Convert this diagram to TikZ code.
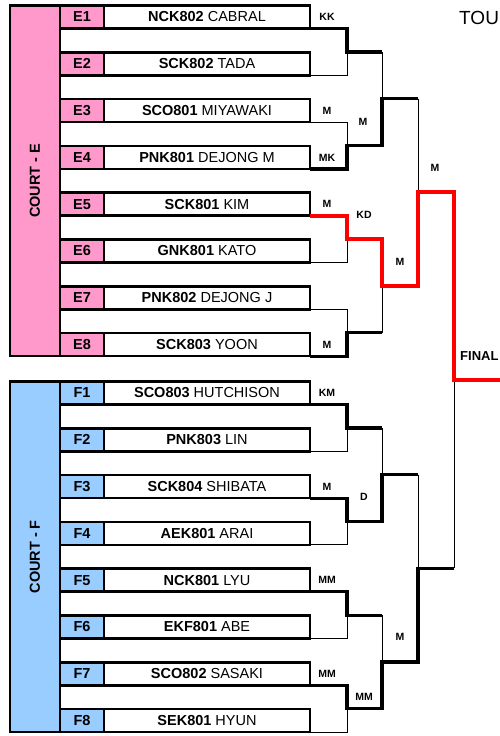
\documentclass[tikz,border=0pt]{standalone}
\usepackage{fontspec}
\setmainfont{Liberation Sans}
\usetikzlibrary{positioning, calc}
\definecolor{cPink}{HTML}{FF99CC}
\definecolor{cSky}{HTML}{99CCFF}
\definecolor{cRed}{HTML}{FF0000}
\tikzset{
  court/.style={
    rectangle, draw, line width=2.6pt, fill=#1,
    minimum width=50pt, minimum height=350.6pt,
    inner sep=0pt, outer sep=0pt
  },
  courtlabel/.style={rotate=90, font=\fontsize{14.5}{16}\selectfont\bfseries},
  seedbox/.style={
    rectangle, draw, line width=2.6pt, fill=#1,
    minimum width=44pt, minimum height=23pt,
    inner sep=0pt, outer sep=0pt, font=\fontsize{14.5}{16}\selectfont\bfseries
  },
  namebox/.style={
    rectangle, draw, line width=2.6pt, fill=white,
    minimum width=206pt, minimum height=23pt,
    inner sep=0pt, outer sep=0pt, font=\fontsize{14.5}{16}\selectfont
  },
  win/.style={line width=3.2pt},
  lose/.style={line width=1pt},
  redwin/.style={line width=4pt, draw=cRed},
  score/.style={font=\fontsize{10.5}{12}\selectfont\bfseries, inner sep=0pt},
}

\begin{document}
\begin{tikzpicture}[x=1pt, y=-1pt, node distance=23.8pt]
  \useasboundingbox (0,0) rectangle (500,736);
  \clip (0,0) rectangle (500,736);

  % court E
  \node[court=cPink, anchor=north west] (courtE) at (10,5.5) {};
  \node[courtlabel] (lblE) at (courtE.center) {COURT - E};

  \node[seedbox=cPink, anchor=north west] (e1) at (60,5.5) {E1};
  \node[namebox, right=0pt of e1] (cabral) {\textbf{NCK802} CABRAL};
  \node[seedbox=cPink, below=of e1] (e2) {E2};
  \node[namebox, right=0pt of e2] (tada) {\textbf{SCK802} TADA};
  \node[seedbox=cPink, below=of e2] (e3) {E3};
  \node[namebox, right=0pt of e3] (miyawaki) {\textbf{SCO801} MIYAWAKI};
  \node[seedbox=cPink, below=of e3] (e4) {E4};
  \node[namebox, right=0pt of e4] (dejongm) {\textbf{PNK801} DEJONG M};
  \node[seedbox=cPink, below=of e4] (e5) {E5};
  \node[namebox, right=0pt of e5] (kim) {\textbf{SCK801} KIM};
  \node[seedbox=cPink, below=of e5] (e6) {E6};
  \node[namebox, right=0pt of e6] (kato) {\textbf{GNK801} KATO};
  \node[seedbox=cPink, below=of e6] (e7) {E7};
  \node[namebox, right=0pt of e7] (dejongj) {\textbf{PNK802} DEJONG J};
  \node[seedbox=cPink, below=of e7] (e8) {E8};
  \node[namebox, right=0pt of e8] (yoon) {\textbf{SCK803} YOON};

  % court F
  \node[court=cSky, anchor=north west] (courtF) at (10,381.5) {};
  \node[courtlabel] (lblF) at (courtF.center) {COURT - F};

  \node[seedbox=cSky, anchor=north west] (f1) at (60,381.5) {F1};
  \node[namebox, right=0pt of f1] (hutchison) {\textbf{SCO803} HUTCHISON};
  \node[seedbox=cSky, below=of f1] (f2) {F2};
  \node[namebox, right=0pt of f2] (lin) {\textbf{PNK803} LIN};
  \node[seedbox=cSky, below=of f2] (f3) {F3};
  \node[namebox, right=0pt of f3] (shibata) {\textbf{SCK804} SHIBATA};
  \node[seedbox=cSky, below=of f3] (f4) {F4};
  \node[namebox, right=0pt of f4] (arai) {\textbf{AEK801} ARAI};
  \node[seedbox=cSky, below=of f4] (f5) {F5};
  \node[namebox, right=0pt of f5] (lyu) {\textbf{NCK801} LYU};
  \node[seedbox=cSky, below=of f5] (f6) {F6};
  \node[namebox, right=0pt of f6] (abe) {\textbf{EKF801} ABE};
  \node[seedbox=cSky, below=of f6] (f7) {F7};
  \node[namebox, right=0pt of f7] (sasaki) {\textbf{SCO802} SASAKI};
  \node[seedbox=cSky, below=of f7] (f8) {F8};
  \node[namebox, right=0pt of f8] (hyun) {\textbf{SEK801} HYUN};

  % bracket junctions
  \coordinate (je1) at ($(cabral.south east)!.5!(tada.south east) + (37,0)$);
  \coordinate (je2) at ($(miyawaki.south east)!.5!(dejongm.south east) + (37,0)$);
  \coordinate (je3) at ($(kim.south east)!.5!(kato.south east) + (37,0)$);
  \coordinate (je4) at ($(dejongj.south east)!.5!(yoon.south east) + (37,0)$);
  \coordinate (qe1) at ($(je1)!.5!(je2) + (35,0)$);
  \coordinate (qe2) at ($(je3)!.5!(je4) + (35,0)$);
  \coordinate (se) at ($(qe1)!.5!(qe2) + (36,0)$);
  \coordinate (jf1) at ($(hutchison.south east)!.5!(lin.south east) + (37,0)$);
  \coordinate (jf2) at ($(shibata.south east)!.5!(arai.south east) + (37,0)$);
  \coordinate (jf3) at ($(lyu.south east)!.5!(abe.south east) + (37,0)$);
  \coordinate (jf4) at ($(sasaki.south east)!.5!(hyun.south east) + (37,0)$);
  \coordinate (qf1) at ($(jf1)!.5!(jf2) + (35,0)$);
  \coordinate (qf2) at ($(jf3)!.5!(jf4) + (35,0)$);
  \coordinate (sf) at ($(qf1)!.5!(qf2) + (36,0)$);
  \coordinate (fin) at ($(se)!.5!(sf) + (36,0)$);
  \coordinate (champ) at ($(fin) + (50,0)$);

  % lost halves
  \draw[lose] (tada.south east) -| (je1);
  \draw[lose] (miyawaki.south east) -| (je2);
  \draw[lose] (kato.south east) -| (je3);
  \draw[lose] (dejongj.south east) -| (je4);
  \draw[lose] (je1 -| qe1) -- (qe1);
  \draw[lose] (je4 -| qe2) -- (qe2);
  \draw[lose] (qe1 -| se) -- (se);
  \draw[lose] (lin.south east) -| (jf1);
  \draw[lose] (arai.south east) -| (jf2);
  \draw[lose] (abe.south east) -| (jf3);
  \draw[lose] (hyun.south east) -| (jf4);
  \draw[lose] (jf1 -| qf1) -- (qf1);
  \draw[lose] (jf3 -| qf2) -- (qf2);
  \draw[lose] (qf1 -| sf) -- (sf);
  \draw[lose] (sf -| fin) -- (fin);

  % winning runs
  \draw[win] (cabral.south east) -| (je1) -- (je1 -| qe1);
  \draw[win] (dejongm.south east) -| (je2) -| (qe1) -- (qe1 -| se);
  \draw[win] (yoon.south east) -| (je4) -- (je4 -| qe2);
  \draw[win] (hutchison.south east) -| (jf1) -- (jf1 -| qf1);
  \draw[win] (shibata.south east) -| (jf2) -| (qf1) -- (qf1 -| sf);
  \draw[win] (lyu.south east) -| (jf3) -- (jf3 -| qf2);
  \draw[win] (sasaki.south east) -| (jf4) -| (qf2) -| (sf) -- (sf -| fin);
  \draw[redwin] (kim.south east) -| (je3) -| (qe2) -| (se) -| (fin) -- (champ);

  % scores
  \node[score] (s1) at ([xshift=17pt]cabral.east) {KK};
  \node[score] (s2) at ([xshift=17pt]miyawaki.east) {M};
  \node[score] (s3) at ([xshift=17pt]dejongm.east) {MK};
  \node[score] (s4) at ([xshift=17pt]kim.east) {M};
  \node[score] (s5) at ([xshift=17pt]yoon.east) {M};
  \node[score] (s6) at (363,122) {M};
  \node[score] (s7) at (364,215) {KD};
  \node[score] (s8) at (400,262) {M};
  \node[score] (s9) at (435,168) {M};
  \node[score] (t1) at ([xshift=17pt]hutchison.east) {KM};
  \node[score] (t2) at ([xshift=17pt]shibata.east) {M};
  \node[score] (t3) at ([xshift=17pt]lyu.east) {MM};
  \node[score] (t4) at ([xshift=17pt]sasaki.east) {MM};
  \node[score] (t5) at (364,497) {D};
  \node[score] (t6) at (400,637) {M};
  \node[score] (t7) at (364,697) {MM};

  \node[anchor=base west, inner sep=0pt, font=\fontsize{19}{22}\selectfont] (title) at (459,24) {TOU};
  \node[anchor=base west, inner sep=0pt, font=\fontsize{13}{15}\selectfont\bfseries] (final) at (460,360) {FINAL};

\end{tikzpicture}
\end{document}
